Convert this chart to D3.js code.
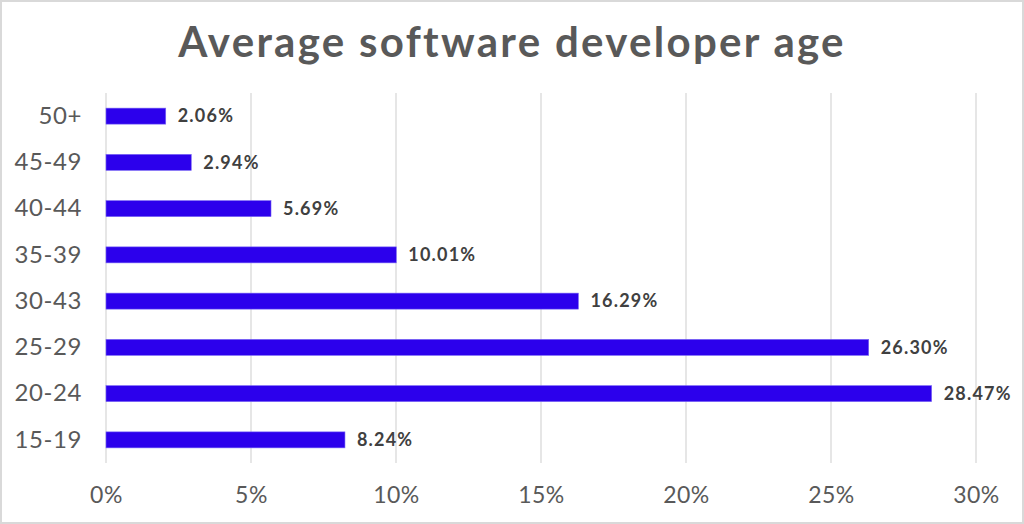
<!DOCTYPE html>
<html><head><meta charset="utf-8">
<script src="https://cdn.jsdelivr.net/npm/d3@7"></script>
<style>html,body{margin:0;padding:0;background:#fff;}svg{display:block;}</style>
</head><body>
<svg id="c" width="1024" height="524"></svg>
<script>
const categories = ["50+","45-49","40-44","35-39","30-43","25-29","20-24","15-19"];
const values = [2.06,2.94,5.69,10.01,16.29,26.30,28.47,8.24];
const xTicks = [0,5,10,15,20,25,30];
const title = "Average software developer age";

const svg = d3.select("#c");
const W = 1024, H = 524;
svg.append("rect").attr("x",1).attr("y",1).attr("width",W-2).attr("height",H-2)
  .attr("fill","#fff").attr("stroke","#d9d9d9").attr("stroke-width",2);

const font = "Lato, 'Open Sans', sans-serif";
const x = d3.scaleLinear().domain([0,30]).range([106,976]);
const y = d3.scaleBand().domain(categories).range([93,463]).paddingInner(0.654).paddingOuter(0.327);

// gridlines
svg.append("g").selectAll("line").data(xTicks).join("line")
  .attr("x1",d=>x(d)).attr("x2",d=>x(d)).attr("y1",93).attr("y2",463)
  .attr("stroke","#d9d9d9").attr("stroke-width",1.3);

// x axis labels
const xa = svg.append("g").attr("transform","translate(0,463)")
  .call(d3.axisBottom(x).tickValues(xTicks).tickFormat(d=>d+"%").tickSize(0).tickPadding(0));
xa.select(".domain").remove();
xa.selectAll("text").attr("y",32).attr("dy","0.35em").attr("fill","#595959")
  .style("font-family",font).style("font-size","23px").style("letter-spacing","0.5px");

// y axis labels
const ya = svg.append("g").attr("transform","translate(82,0)")
  .call(d3.axisLeft(y).tickSize(0).tickPadding(0));
ya.select(".domain").remove();
ya.selectAll("text").attr("fill","#595959").style("font-family",font).style("font-size","24px")
  .style("letter-spacing","0.6px");

// bars
svg.append("g").selectAll("rect").data(values).join("rect")
  .attr("x",x(0)).attr("y",(d,i)=>y(categories[i]))
  .attr("width",d=>x(d)-x(0)).attr("height",y.bandwidth())
  .attr("fill","#2c00ec").attr("stroke","#7a66f5").attr("stroke-width",0.6);

// value labels
svg.append("g").selectAll("text").data(values).join("text")
  .attr("x",d=>x(d)+12).attr("y",(d,i)=>y(categories[i])+y.bandwidth()/2)
  .attr("dy","0.35em").attr("fill","#404040")
  .style("font-family",font).style("font-size","18px").style("font-weight","bold")
  .style("letter-spacing","1.2px")
  .text(d=>d.toFixed(2)+"%");

// title
svg.append("text").attr("x",512).attr("y",57).attr("text-anchor","middle")
  .attr("fill","#595959").style("font-family",font).style("font-size","42px").style("font-weight","bold")
  .style("letter-spacing","2.3px")
  .text(title);
</script>
</body></html>
